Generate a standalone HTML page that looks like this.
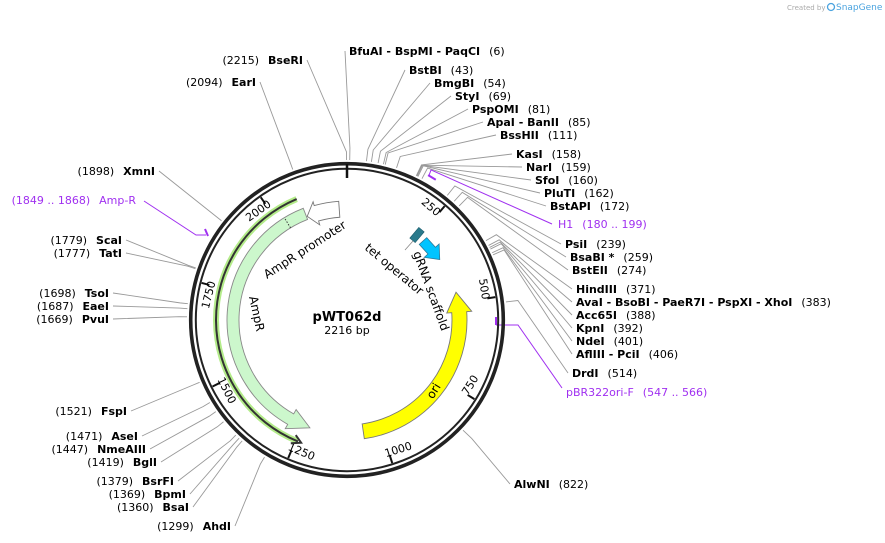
<!DOCTYPE html>
<html><head><meta charset="utf-8"><style>
html,body{margin:0;padding:0;background:#fff;}
svg{display:block;font-family:"DejaVu Sans","Liberation Sans",sans-serif;}
</style></head><body>
<svg id="s" width="885" height="543" viewBox="0 0 885 543" xmlns="http://www.w3.org/2000/svg">
<text x="787" y="10" font-size="7" fill="#aaa">Created by</text>
<circle cx="831" cy="7" r="3.5" fill="none" stroke="#4aa3df" stroke-width="1.3"/>
<text x="836" y="10" font-size="9" fill="#4aa3df">SnapGene</text>
<g id="g"></g>
</svg>
<script>
const cx=347,cy=320,N=2216;
function P(r,d){const a=d*Math.PI/180;return [cx+r*Math.sin(a),cy-r*Math.cos(a)];}
function th(p){return p/N*360;}
function f(p){return p[0].toFixed(2)+","+p[1].toFixed(2);}
let s="";
const R=[["BfuAI - BspMI - PaqCI","(6)",349,55,6],["BstBI","(43)",409,74,43],["BmgBI","(54)",434,87,54],["StyI","(69)",455,100,69],["PspOMI","(81)",472,113,81],["ApaI - BanII","(85)",487,126,85],["BssHII","(111)",500,139,111],["KasI","(158)",516,158,158],["NarI","(159)",526,171,159],["SfoI","(160)",535,184,160],["PluTI","(162)",544,197,162],["BstAPI","(172)",550,210,172],["PsiI","(239)",565,248,239],["BsaBI *","(259)",570,261,259],["BstEII","(274)",572,274,274],["HindIII","(371)",576,293,371],["AvaI - BsoBI - PaeR7I - PspXI - XhoI","(383)",576,306,383],["Acc65I","(388)",576,319,388],["KpnI","(392)",576,332,392],["NdeI","(401)",576,345,401],["AflIII - PciI","(406)",576,358,406],["DrdI","(514)",572,377,514],["AlwNI","(822)",514,488,822]];
const L=[["(2215)","BseRI",303,64,2215],["(2094)","EarI",256,86,2094],["(1898)","XmnI",155,175,1898],["(1779)","ScaI",122,244,1779],["(1777)","TatI",122,257,1777],["(1698)","TsoI",109,297,1698],["(1687)","EaeI",109,310,1687],["(1669)","PvuI",109,323,1669],["(1521)","FspI",127,415,1521],["(1471)","AseI",138,440,1471],["(1447)","NmeAIII",146,453,1447],["(1419)","BglI",157,466,1419],["(1379)","BsrFI",174,485,1379],["(1369)","BpmI",186,498,1369],["(1360)","BsaI",189,511,1360],["(1299)","AhdI",231,530,1299]];
for(const [n,num,x,y,p] of R){const t=th(p);
 s+=`<polyline points="${f(P(160,t))} ${f(P(172,t))} ${x-4},${y-4}" fill="none" stroke="#999" stroke-width="0.9"/>`;
 s+=`<text x="${x}" y="${y}" font-size="11"><tspan font-weight="bold">${n}</tspan><tspan dx="9">${num}</tspan></text>`;}
for(const [num,n,x,y,p] of L){const t=th(p);
 s+=`<polyline points="${f(P(160,t))} ${f(P(168,t))} ${x+4},${y-4}" fill="none" stroke="#999" stroke-width="0.9"/>`;
 s+=`<text x="${x}" y="${y}" font-size="11" text-anchor="end"><tspan>${num}</tspan><tspan dx="9" font-weight="bold">${n}</tspan></text>`;}
const pu="#a030f0";
s+=`<polyline points="${f(P(166,th(180)))} ${f(P(166,th(199)))}" stroke="${pu}" stroke-width="2" fill="none"/>`;
s+=`<polyline points="${f(P(166,th(182)))} ${f(P(172,th(180)))} 552,224" stroke="${pu}" stroke-width="1" fill="none"/>`;
s+=`<text x="558" y="228" font-size="11" fill="${pu}">H1<tspan dx="9">(180 .. 199)</tspan></text>`;
s+=`<polyline points="496,317 496,325" stroke="${pu}" stroke-width="2"/><polyline points="496,325 518,325 562,388" stroke="${pu}" stroke-width="1" fill="none"/>`;
s+=`<text x="566" y="396" font-size="11" fill="${pu}">pBR322ori-F<tspan dx="9">(547 .. 566)</tspan></text>`;
s+=`<polyline points="205,229 208,236" stroke="${pu}" stroke-width="2"/><polyline points="206,235 196,235 144,201" stroke="${pu}" stroke-width="1" fill="none"/>`;
s+=`<text x="136" y="204" font-size="11" fill="${pu}" text-anchor="end">(1849 .. 1868)<tspan dx="9">Amp-R</tspan></text>`;
s+=`<circle cx="${cx}" cy="${cy}" r="156.3" fill="none" stroke="#222" stroke-width="3.6"/>`;
s+=`<circle cx="${cx}" cy="${cy}" r="151.2" fill="none" stroke="#222" stroke-width="2"/>`;
s+=`<line x1="347" y1="164" x2="347" y2="178" stroke="#111" stroke-width="2.5"/>`;
for(let k=250;k<N;k+=250){const t=th(k);
 s+=`<line x1="${P(150,t)[0]}" y1="${P(150,t)[1]}" x2="${P(142,t)[0]}" y2="${P(142,t)[1]}" stroke="#111" stroke-width="2"/>`;
 const q=P(140,t-4);let rot=t<90?t:(t<270?t-180:t-360);
 s+=`<text x="${q[0]}" y="${q[1]}" font-size="11" text-anchor="middle" dominant-baseline="middle" transform="rotate(${rot.toFixed(1)} ${q[0]} ${q[1]})">${k}</text>`;}
function arrow(r1,r2,a0,ab,at,f1,f2,fill,st){const dir=ab>a0?1:0,lg=Math.abs(ab-a0)>180?1:0;
 return `<path d="M${f(P(r2,a0))} A${r2},${r2} 0 ${lg} ${dir} ${f(P(r2,ab))} L${f(P(f2,ab))} L${f(P((r1+r2)/2,at))} L${f(P(f1,ab))} L${f(P(r1,ab))} A${r1},${r1} 0 ${lg} ${1-dir} ${f(P(r1,a0))} Z" fill="${fill}" stroke="${st}" stroke-width="0.9"/>`;}
function arc(r,a,b){return `M${f(P(r,a))} A${r},${r} 0 ${Math.abs(b-a)>180?1:0} ${b>a?1:0} ${f(P(r,b))}`;}
s+=`<path d="${arc(131,337.4,202)}" stroke="#b4ec8a" stroke-width="6" fill="none"/>`;
s+=`<path d="${arc(131,337.4,202)}" stroke="#333" stroke-width="2" fill="none"/>`;
s+=`<path d="M${f(P(126,204))} L${f(P(131,200.5))} L${f(P(135.5,204.5))}" stroke="#333" stroke-width="2" fill="none"/>`;
s+=arrow(108,120,338.6,209.6,199,103,125,"#ccf7cc","#888");
s+=`<line x1="${P(108,328.5)[0]}" y1="${P(108,328.5)[1]}" x2="${P(120,328.5)[0]}" y2="${P(120,328.5)[1]}" stroke="#333" stroke-dasharray="1.5,1.5"/>`;
s+=arrow(103,119,356,344,339,99,123,"#fff","#777");
s+=arrow(105,120,171.7,86,75.7,100,125,"#ffff00","#777");
s+=`<g transform="translate(423,241) rotate(48)"><path d="M0,-5 L13,-5 L13,-10 L25,0 L13,10 L13,5 L0,5 Z" fill="#00c4ff" stroke="#2a7a9a" stroke-width="0.8"/></g>`;
s+=`<g transform="translate(417,235) rotate(40)"><rect x="-3.5" y="-7" width="7" height="14" fill="#2a7a8c" stroke="#1a5a6a" stroke-width="0.6"/></g>`;
s+=`<line x1="413" y1="241" x2="405" y2="250" stroke="#888" stroke-width="0.8"/>`;
s+=`<text x="413" y="253" font-size="12" transform="rotate(70 413 253)">gRNA scaffold</text>`;
s+=`<text x="364" y="249" font-size="12" transform="rotate(40 364 249)">tet operator</text>`;
s+=`<text x="267" y="279" font-size="12" transform="rotate(-33 267 279)">AmpR promoter</text>`;
s+=`<text x="249" y="297" font-size="12" transform="rotate(78 249 297)">AmpR</text>`;
s+=`<text x="437" y="393" font-size="12" text-anchor="middle" transform="rotate(-58 437 393)">ori</text>`;
s+=`<text x="347" y="321" font-size="13" font-weight="bold" text-anchor="middle">pWT062d</text>`;
s+=`<text x="347" y="334" font-size="11" text-anchor="middle">2216 bp</text>`;
document.getElementById("g").innerHTML=s;
</script>
</body></html>
